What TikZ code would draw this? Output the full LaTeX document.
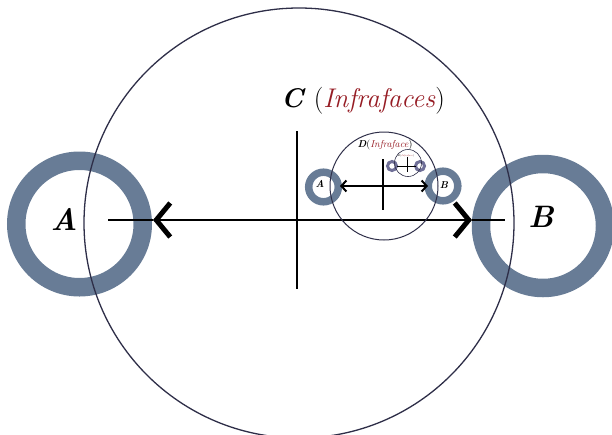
\documentclass[tikz,border=0pt]{standalone}
\usepackage{tikz}
\usetikzlibrary{arrows.meta}
\definecolor{ringblue}{RGB}{104,124,150}
\definecolor{tinyring}{RGB}{112,112,152}
\definecolor{rimnavy}{RGB}{46,46,72}
\definecolor{infrared}{RGB}{150,28,36}

\begin{document}
\begin{tikzpicture}[x=1pt,y=-1pt,
  ring/.style={draw=ringblue},
  rim/.style={draw=rimnavy,line width=1.3pt},
  axis/.style={line width=2.2pt,black},
  barb/.style={-{Straight Barb[length=14pt,width=34pt,line width=5pt]}},
  lab/.style={font=\fontsize{31}{31}\selectfont\bfseries\itshape},
  smalllab/.style={font=\fontsize{10}{10}\selectfont\bfseries\itshape}]
\useasboundingbox (0,0) rectangle (612,434);

% level C
\coordinate (O) at (297,220);
\coordinate (Lend) at (108,220);
\coordinate (Rend) at (505,220);
\coordinate (Ltip) at (153,220);
\coordinate (Rtip) at (472,220);
\coordinate (Top) at (297,131);
\coordinate (Bot) at (297,289);

\draw[ring,line width=18.5pt] (79.5,224) circle (63.25pt);
\draw[ring,line width=18.5pt] (543,226) circle (62pt);
\draw[rim] (299,223) circle (215pt);

\draw[axis] (Top) -- (Bot);
\draw[axis] (Ltip) -- (Lend);
\draw[axis] (Rtip) -- (Rend);
\draw[axis,barb] (O) -- (Ltip);
\draw[axis,barb] (O) -- (Rtip);

\node[lab] (labA) at (64,219) {A};
\node[lab] (labB) at (541,217) {B};
\node[font=\fontsize{27}{27}\selectfont] (labC) at (363,101)
  {\textbf{\textit{C}} (\textcolor{infrared}{\textit{Infrafaces}})};

% level D
\coordinate (o) at (383,186);
\coordinate (la) at (340,186);
\coordinate (rb) at (428,186);
\coordinate (top) at (383,159);
\coordinate (bot) at (383,210);

\draw[ring,line width=7.5pt] (323.5,187) circle (14.8pt);
\draw[ring,line width=7.5pt] (443,186) circle (14.8pt);
\draw[rim,line width=1pt] (384,186) circle (54pt);

\draw[line width=1.5pt] (top) -- (bot);
\draw[line width=1.5pt,{Straight Barb[length=5pt,width=11pt,line width=2pt]}-{Straight Barb[length=5pt,width=11pt,line width=2pt]}] (la) -- (rb);

\node[smalllab] (laba) at (320,184) {A};
\node[smalllab] (labb) at (444,185) {B};
\node[font=\fontsize{10}{10}\selectfont] (labD) at (385,145)
  {\textbf{\textit{D}}(\textcolor{infrared}{\textit{Infraface}})};

% level E
\draw[draw=tinyring,line width=3pt] (392,166) circle (4.5pt);
\draw[draw=tinyring,line width=3pt] (420,166) circle (4.5pt);
\draw[rim,line width=0.6pt] (408,163) circle (13.5pt);
\draw[line width=0.6pt] (407,157) -- (407,172);
\draw[line width=0.6pt] (397,166) -- (416,166);
\node[font=\fontsize{2.5}{2.5}\selectfont,inner sep=0pt] (labE) at (406,156)
  {\textbf{\textit{D}}(\textcolor{infrared}{\textit{Infraface}})};
\end{tikzpicture}
\end{document}
